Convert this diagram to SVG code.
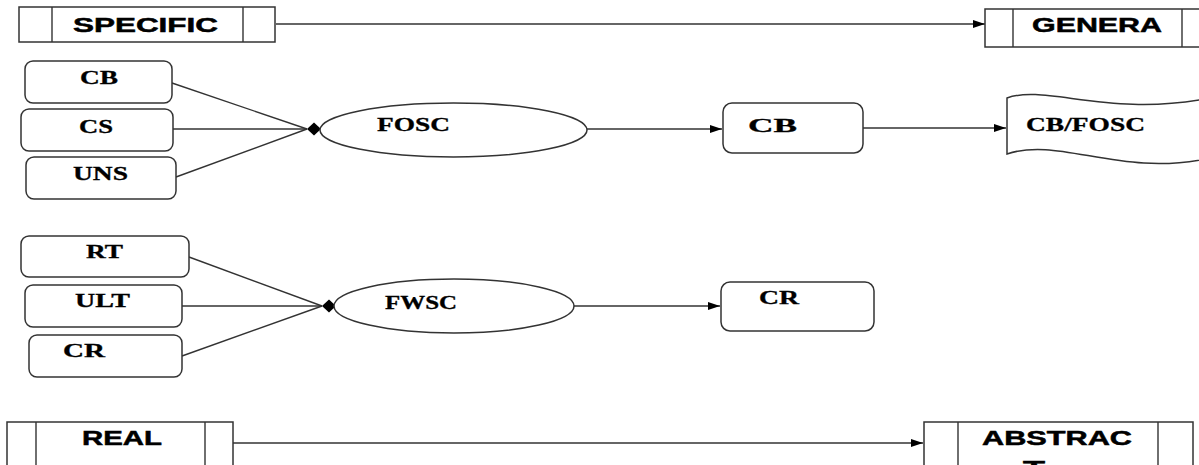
<svg xmlns="http://www.w3.org/2000/svg" width="1199" height="465" viewBox="0 0 1199 465">
<style>
.bx{fill:#fff;stroke:#333;stroke-width:1.5}
.ln{fill:none;stroke:#333;stroke-width:1.4}
.sa{font-family:"Liberation Sans",Arial,sans-serif;font-weight:bold;font-size:20px;fill:#000;stroke:#000;stroke-width:0.5}
.se{font-family:"Liberation Serif","Times New Roman",serif;font-weight:bold;font-size:19px;fill:#000;stroke:#000;stroke-width:0.3}
</style>
<defs>
<marker id="arr" viewBox="0 0 12 10" refX="12" refY="5" markerWidth="12" markerHeight="10" markerUnits="userSpaceOnUse" orient="auto">
<path d="M0,1 L12,5 L0,9 Z" fill="#000"/>
</marker>
<marker id="dia" viewBox="0 0 14 14" refX="0" refY="7" markerWidth="14" markerHeight="14" markerUnits="userSpaceOnUse" orient="auto">
<path d="M0,7 L7,0.5 L14,7 L7,13.5 Z" fill="#000"/>
</marker>
</defs>
<rect width="1199" height="465" fill="#fff"/>
<g id="connectors">
<path class="ln" d="M276,24 L985,24" marker-end="url(#arr)"/>
<path class="ln" d="M172,83 L307,129"/>
<path class="ln" d="M173,129 L307,129" marker-end="url(#dia)"/>
<path class="ln" d="M176,177 L307,129"/>
<path class="ln" d="M587,129 L722,129" marker-end="url(#arr)"/>
<path class="ln" d="M863,128 L1006,128" marker-end="url(#arr)"/>
<path class="ln" d="M189,257 L322,306"/>
<path class="ln" d="M182,306 L322,306" marker-end="url(#dia)"/>
<path class="ln" d="M182,356 L322,306"/>
<path class="ln" d="M574,306 L720,306" marker-end="url(#arr)"/>
<path class="ln" d="M233,443 L923,443" marker-end="url(#arr)"/>
</g>
<g id="specific">
<rect class="bx" x="19" y="7" width="256" height="35"/>
<line class="ln" x1="52" y1="7" x2="52" y2="42"/>
<line class="ln" x1="243" y1="7" x2="243" y2="42"/>
<text class="sa" x="73" y="32" textLength="145" lengthAdjust="spacingAndGlyphs">SPECIFIC</text>
</g>
<g id="genera">
<rect class="bx" x="985" y="9" width="230" height="38"/>
<line class="ln" x1="1013" y1="9" x2="1013" y2="47"/>
<line class="ln" x1="1182" y1="9" x2="1182" y2="47"/>
<text class="sa" x="1032" y="32" textLength="130" lengthAdjust="spacingAndGlyphs">GENERA</text>
</g>
<g id="cb1">
<rect class="bx" x="25" y="61" width="147" height="42" rx="8"/>
<text class="se" x="80" y="84" textLength="38" lengthAdjust="spacingAndGlyphs">CB</text>
</g>
<g id="cs">
<rect class="bx" x="21" y="109" width="152" height="42" rx="8"/>
<text class="se" x="79" y="133" textLength="34" lengthAdjust="spacingAndGlyphs">CS</text>
</g>
<g id="uns">
<rect class="bx" x="26" y="157" width="150" height="42" rx="8"/>
<text class="se" x="73" y="180" textLength="55" lengthAdjust="spacingAndGlyphs">UNS</text>
</g>
<g id="fosc">
<ellipse class="bx" cx="453.5" cy="130" rx="133.5" ry="27"/>
<text class="se" x="377" y="131" textLength="73" lengthAdjust="spacingAndGlyphs">FOSC</text>
</g>
<g id="cb2">
<rect class="bx" x="723" y="103" width="140" height="50" rx="9"/>
<text class="se" x="748" y="132" font-size="22" textLength="49" lengthAdjust="spacingAndGlyphs">CB</text>
</g>
<g id="cbfosc">
<path class="bx" d="M1007,98 C1045,84 1110,118 1210,98 L1210,158 C1120,178 1060,136 1007,154 Z"/>
<text class="se" x="1026" y="131" textLength="119" lengthAdjust="spacingAndGlyphs">CB/FOSC</text>
</g>
<g id="rt">
<rect class="bx" x="21" y="236" width="168" height="41" rx="8"/>
<text class="se" x="86" y="258" textLength="37" lengthAdjust="spacingAndGlyphs">RT</text>
</g>
<g id="ult">
<rect class="bx" x="25" y="285" width="157" height="42" rx="8"/>
<text class="se" x="75" y="307" textLength="55" lengthAdjust="spacingAndGlyphs">ULT</text>
</g>
<g id="cr1">
<rect class="bx" x="29" y="335" width="153" height="42" rx="8"/>
<text class="se" x="63" y="357" textLength="42" lengthAdjust="spacingAndGlyphs">CR</text>
</g>
<g id="fwsc">
<ellipse class="bx" cx="454" cy="306" rx="120" ry="27"/>
<text class="se" x="385" y="309" textLength="72" lengthAdjust="spacingAndGlyphs">FWSC</text>
</g>
<g id="cr2">
<rect class="bx" x="721" y="282" width="153" height="49" rx="9"/>
<text class="se" x="759" y="304" textLength="40" lengthAdjust="spacingAndGlyphs">CR</text>
</g>
<g id="real">
<rect class="bx" x="7" y="422" width="226" height="60"/>
<line class="ln" x1="36" y1="422" x2="36" y2="482"/>
<line class="ln" x1="205" y1="422" x2="205" y2="482"/>
<text class="sa" x="82" y="445" textLength="80" lengthAdjust="spacingAndGlyphs">REAL</text>
</g>
<g id="abstract">
<rect class="bx" x="924" y="422" width="269" height="60"/>
<line class="ln" x1="958" y1="422" x2="958" y2="482"/>
<line class="ln" x1="1158" y1="422" x2="1158" y2="482"/>
<text class="sa" x="982" y="445" textLength="150" lengthAdjust="spacingAndGlyphs">ABSTRAC</text>
<text class="sa" x="1034" y="475" text-anchor="middle" textLength="22" lengthAdjust="spacingAndGlyphs">T</text>
</g>
</svg>
